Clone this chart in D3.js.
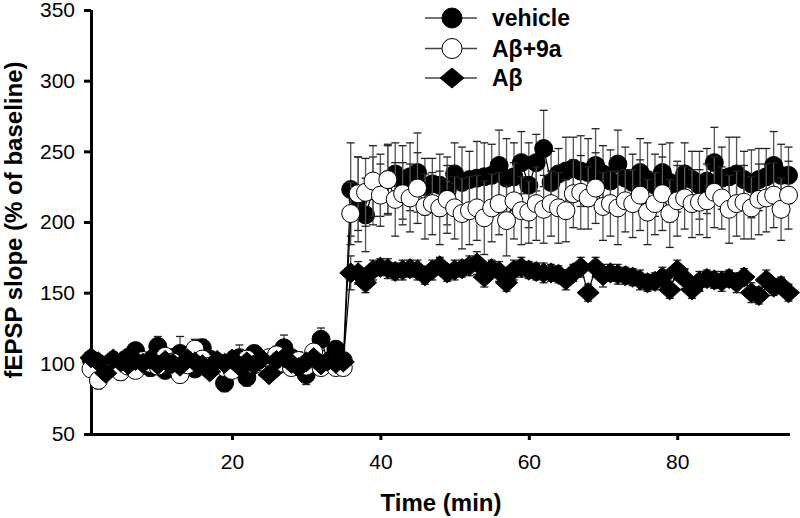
<!DOCTYPE html>
<html>
<head>
<meta charset="utf-8">
<script src="https://cdn.jsdelivr.net/npm/d3@7"></script>
<style>
  html, body { margin: 0; padding: 0; background: #fff; }
  svg { display: block; font-family: Arial, "Liberation Sans", Helvetica, sans-serif; }
</style>
</head>
<body>
<svg id="chart" width="800" height="518"></svg>
<script>
const times = [1,2,3,4,5,6,7,8,9,10,11,12,13,14,15,16,17,18,19,20,21,22,23,24,25,26,27,28,29,30,31,32,33,34,35,
  36,37,38,39,40,41,42,43,44,45,46,47,48,49,50,51,52,53,54,55,56,57,58,59,60,61,62,63,64,65,
  66,67,68,69,70,71,72,73,74,75,76,77,78,79,80,81,82,83,84,85,86,87,88,89,90,91,92,93,94,95];

const vehicle = [103,100,97,102,98,104,109,101,97,112,95,104,107,99,96,111,103,100,86,98,104,90,107,102,100,98,111,104,101,92,103,117,100,110,102,
  223,216,205,222,226,230,234,228,232,235,
  225,227,226,222,234,228,230,231,232,233,
  240,231,232,242,226,242,252,228,234,236,
  238,236,235,240,234,229,241,231,228,235,
  230,226,235,228,225,234,230,226,229,242,
  231,232,234,230,227,230,232,240,233,233];
const vehicleSem = [5,4,6,5,4,6,5,4,6,7,5,6,12,5,4,6,5,4,6,5,9,6,5,4,6,5,9,5,6,7,5,8,6,5,5,
  33,30,26,24,22,25,22,26,24,28,20,18,22,24,22,25,20,26,24,22,25,28,24,22,30,20,27,22,18,24,
  22,25,24,26,20,22,24,22,20,24,26,22,20,28,18,22,20,24,23,25,22,28,26,20,24,22,20,24,22,20];

const abeta9a = [96,88,99,101,94,98,95,102,100,98,105,101,92,99,110,103,98,101,97,95,100,103,99,101,104,106,100,97,102,98,108,97,101,97,97,
  206,220,221,229,219,230,216,220,217,224,
  211,213,210,216,210,206,208,210,203,210,
  213,201,215,208,207,213,209,213,210,208,
  220,221,217,224,211,213,210,215,213,219,
  207,213,220,206,215,217,213,214,215,221,
  217,209,213,214,210,216,217,219,209,219];
const abeta9aSem = [5,6,5,4,6,5,4,5,6,5,4,6,5,4,7,5,4,6,5,4,5,6,5,4,5,6,5,4,6,5,4,5,6,4,5,
  22,26,24,25,22,24,26,22,24,25,23,22,26,24,22,25,24,23,26,24,22,25,27,24,22,26,24,23,25,22,
  24,26,22,25,24,23,26,22,24,25,23,22,26,24,25,22,24,23,26,25,22,24,23,26,22,25,24,23,22,24];

const abeta = [104,101,93,103,101,99,102,100,103,99,102,100,98,103,101,99,94,102,100,103,98,101,99,103,92,102,104,100,97,101,104,99,102,100,101,
  164,164,157,166,168,167,165,166,167,166,
  162,166,169,164,166,167,169,171,161,167,
  165,157,166,168,166,165,164,164,163,159,
  164,168,150,168,162,164,163,162,161,159,
  157,158,161,152,166,160,152,158,160,159,
  158,160,157,161,150,148,159,154,155,150];
const abetaSem = [4,3,4,5,3,4,3,4,5,3,4,3,4,5,3,4,3,4,3,5,4,3,4,3,4,5,3,4,3,4,3,4,5,4,3,
  12,8,7,7,6,7,6,7,6,7,6,7,6,6,7,6,7,8,7,6,7,6,7,7,6,6,7,6,6,7,
  6,7,6,7,8,6,7,6,6,7,6,6,7,6,7,7,6,7,6,6,7,6,7,6,7,6,7,6,6,6];

const seriesNames = ["vehicle", "A\u03b2+9a", "A\u03b2"];
const xTicks = [20, 40, 60, 80];
const yTicks = [50, 100, 150, 200, 250, 300, 350];
const xTitle = "Time (min)";
const yTitle = "fEPSP slope (% of baseline)";

const series = [
  {name: seriesNames[0], values: vehicle, sem: vehicleSem, shape: "circle", fill: "#000"},
  {name: seriesNames[1], values: abeta9a, sem: abeta9aSem, shape: "circle", fill: "#fff"},
  {name: seriesNames[2], values: abeta, sem: abetaSem, shape: "diamond", fill: "#000"}
];

const svg = d3.select("#chart");
const x = d3.scaleLinear().domain([1, 95.2]).range([91, 790]);
const y = d3.scaleLinear().domain([50, 350]).range([434, 10]);

// axes
const xAxis = svg.append("g").attr("transform", "translate(0,434)")
  .call(d3.axisBottom(x).tickValues(xTicks).tickSize(6).tickSizeOuter(0).tickPadding(14));
const yAxis = svg.append("g").attr("transform", "translate(91,0)")
  .call(d3.axisLeft(y).tickValues(yTicks).tickSize(7).tickSizeOuter(0).tickPadding(9));
[xAxis, yAxis].forEach(g => {
  g.select(".domain").attr("stroke", "#000").attr("stroke-width", 3);
  g.selectAll(".tick line").attr("stroke", "#000").attr("stroke-width", 3);
  g.selectAll(".tick text").attr("fill", "#000").style("font-size", "21px")
    .style("font-family", "Arial, 'Liberation Sans', sans-serif");
});
xAxis.select(".domain").attr("d", "M89,0.5H790");
yAxis.select(".domain").attr("d", "M0.5,435.5V10");

// series
const diamond = (cx, cy) => `M${cx},${cy-10}L${cx+11},${cy}L${cx},${cy+10}L${cx-11},${cy}Z`;
const line = d3.line().x((d, i) => x(times[i])).y(d => y(d));

series.forEach(s => {
  const g = svg.append("g");
  const eb = g.append("g").attr("stroke", "#555").attr("stroke-width", 1.3);
  s.values.forEach((v, i) => {
    const cx = x(times[i]), y1 = y(v + s.sem[i]), y0 = y(v - s.sem[i]);
    eb.append("line").attr("x1", cx).attr("x2", cx).attr("y1", y1).attr("y2", y0);
    eb.append("line").attr("x1", cx - 4).attr("x2", cx + 4).attr("y1", y1).attr("y2", y1).attr("stroke", "#222");
    eb.append("line").attr("x1", cx - 4).attr("x2", cx + 4).attr("y1", y0).attr("y2", y0).attr("stroke", "#222");
  });
  g.append("path").datum(s.values).attr("d", line).attr("fill", "none")
    .attr("stroke", "#000").attr("stroke-width", 1.2);
  s.values.forEach((v, i) => {
    if (s.shape === "circle") {
      g.append("circle").attr("cx", x(times[i])).attr("cy", y(v)).attr("r", 9)
        .attr("fill", s.fill).attr("stroke", "#000").attr("stroke-width", 1);
    } else {
      g.append("path").attr("d", diamond(x(times[i]), y(v))).attr("fill", s.fill)
        .attr("stroke", "#000").attr("stroke-width", 1);
    }
  });
});

// legend
const legY = [18, 48.5, 78];
series.forEach((s, i) => {
  const g = svg.append("g");
  g.append("line").attr("x1", 425).attr("x2", 477).attr("y1", legY[i]).attr("y2", legY[i])
    .attr("stroke", "#444").attr("stroke-width", 1.5);
  if (s.shape === "circle") {
    g.append("circle").attr("cx", 452).attr("cy", legY[i]).attr("r", 10)
      .attr("fill", s.fill).attr("stroke", "#000").attr("stroke-width", 1);
  } else {
    g.append("path").attr("d", `M452,${legY[i]-10}L464,${legY[i]}L452,${legY[i]+10}L440,${legY[i]}Z`)
      .attr("fill", s.fill).attr("stroke", "#000");
  }
  g.append("text").attr("x", 492).attr("y", legY[i] + 8).text(s.name)
    .style("font-size", "23px").style("font-weight", "bold").attr("fill", "#000");
});

// titles
svg.append("text").attr("x", 441).attr("y", 511).attr("text-anchor", "middle")
  .style("font-size", "24px").style("font-weight", "bold").text(xTitle);
svg.append("text").attr("transform", "translate(22,220) rotate(-90)").attr("text-anchor", "middle")
  .style("font-size", "24px").style("font-weight", "bold").text(yTitle);
</script>
</body>
</html>
